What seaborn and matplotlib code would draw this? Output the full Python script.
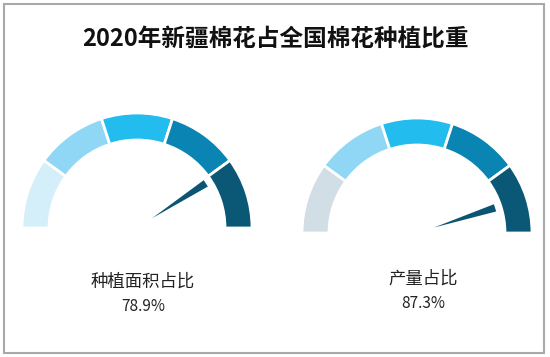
import numpy as np
import pandas as pd
import seaborn as sns
import matplotlib
matplotlib.use("Agg")
import matplotlib.pyplot as plt
from matplotlib.patches import Wedge, Polygon, Rectangle

# ---- data ----
title = "2020年新疆棉花占全国棉花种植比重"
gauge_labels = ["种植面积占比", "产量占比"]
gauge_values = [78.9, 87.3]          # percent
segment_bounds = [0, 20, 40, 60, 80, 100]   # five equal bands
segment_colors_left = ["#d4eff9", "#8fd7f4", "#22bcef", "#0a84b3", "#0a5875"]
segment_colors_right = ["#d2dee6", "#8fd7f4", "#22bcef", "#0a84b3", "#0a5875"]
needle_color = "#0c5474"

df = pd.DataFrame({"label": gauge_labels, "value": gauge_values})

sns.set_theme(style="white")
plt.rcParams["font.family"] = ["Noto Sans CJK SC", "DejaVu Sans"]

W, H = 550, 357
fig = plt.figure(figsize=(W / 100, H / 100), dpi=100)
ax = fig.add_axes([0, 0, 1, 1])
ax.set_xlim(0, W)
ax.set_ylim(0, H)
ax.set_axis_off()

# frame
ax.add_patch(Rectangle((4, H - 353), 540, 349, fill=False, edgecolor="#a9a9a9", lw=1.5))

ax.text(275, H - 39, title, ha="center", va="center", fontsize=17,
        fontweight="bold", color="#111111")

centers = [(137, H - 228), (417, H - 233)]
label_y = [H - 281.5, H - 279]
pct_y = [H - 306.5, H - 303.5]
palettes = [segment_colors_left, segment_colors_right]
R_OUT, R_IN = 115, 88
NEEDLE_OFFSET = -5.0

for i, row in df.iterrows():
    cx, cy = centers[i]
    cols = palettes[i]
    for k in range(len(segment_bounds) - 1):
        a1 = 180 - segment_bounds[k + 1] * 1.8
        a2 = 180 - segment_bounds[k] * 1.8
        ax.add_patch(Wedge((cx, cy), R_OUT, a1, a2, width=R_OUT - R_IN,
                           facecolor=cols[k], edgecolor="white", lw=2.0))
    # needle
    ang = np.deg2rad(180 - row["value"] * 1.8 + NEEDLE_OFFSET)
    ux, uy = np.cos(ang), np.sin(ang)
    px, py = -uy, ux
    r0, r1, hw = 18, 82, 3.8
    pts = [(cx + r0 * ux, cy + r0 * uy),
           (cx + r1 * ux + hw * px, cy + r1 * uy + hw * py),
           (cx + r1 * ux - hw * px, cy + r1 * uy - hw * py)]
    ax.add_patch(Polygon(pts, closed=True, facecolor=needle_color, edgecolor="none"))
    ax.text(cx + 6, label_y[i], row["label"], ha="center", va="center",
            fontsize=12.5, color="#222222")
    ax.text(cx + 6, pct_y[i], f"{row['value']:.1f}%", ha="center", va="center",
            fontsize=11, color="#222222")

fig.savefig("out.png", dpi=100, facecolor="white")
